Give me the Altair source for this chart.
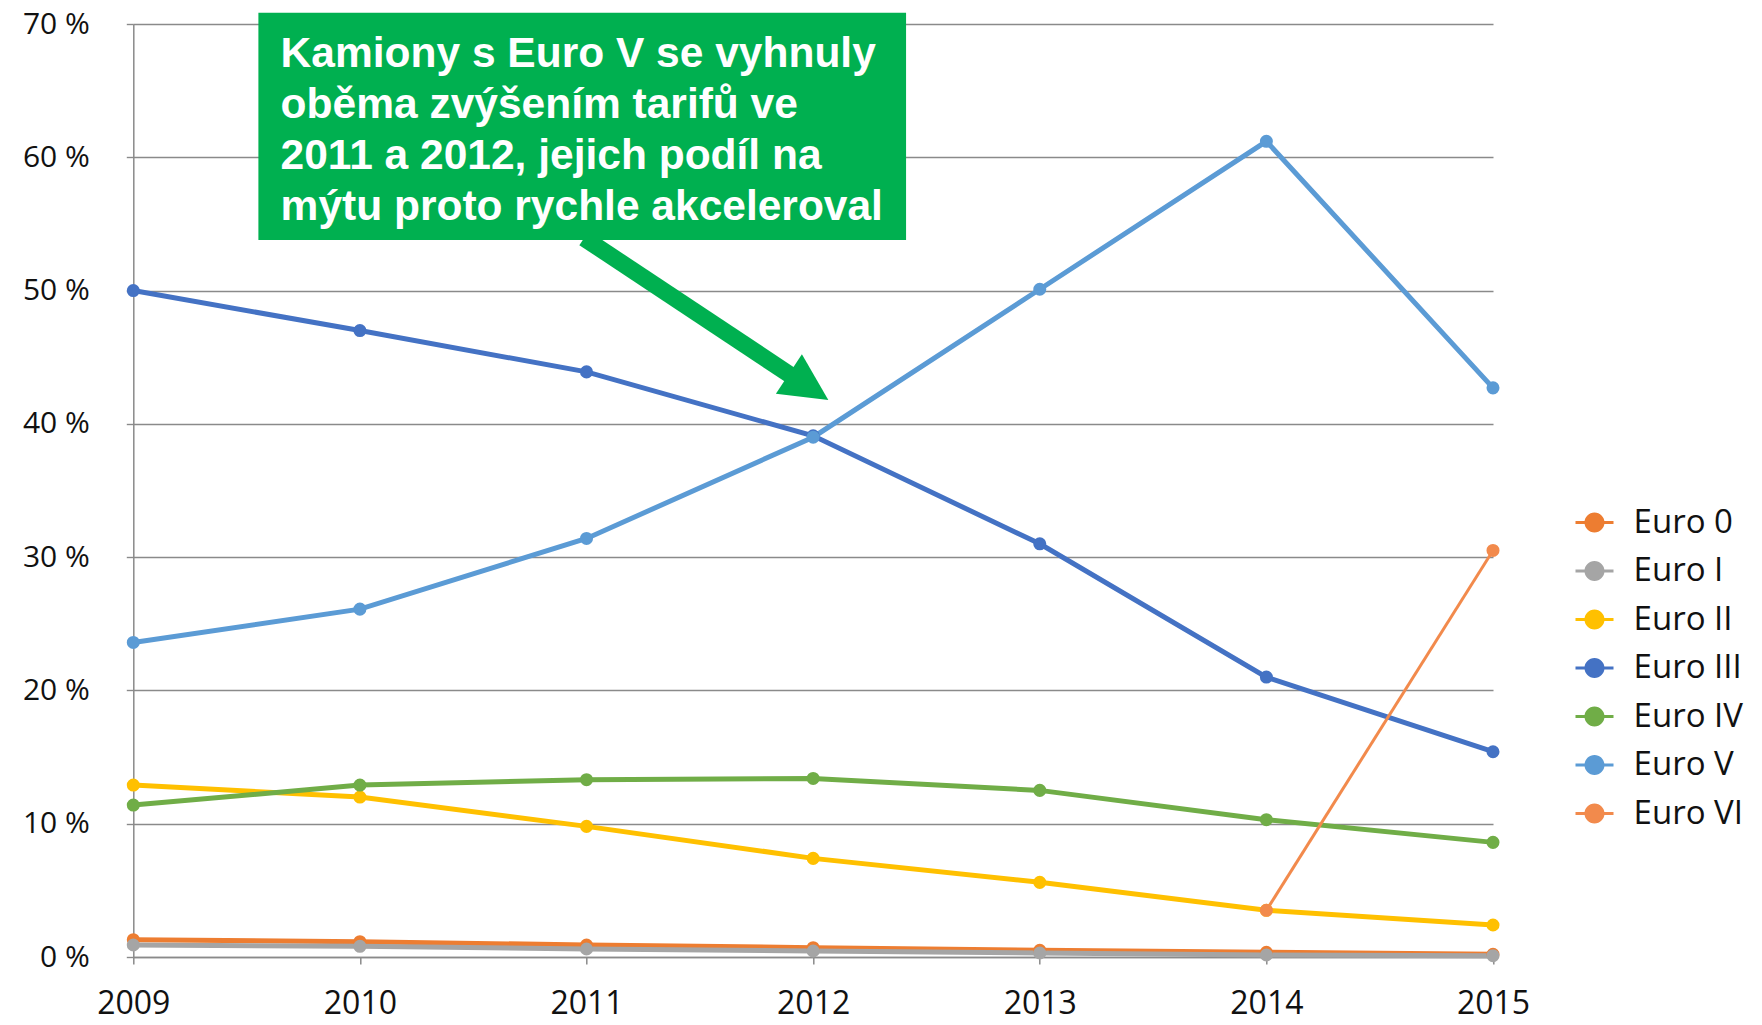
import altair as alt
import pandas as pd

# ---- data ----
years = [2009, 2010, 2011, 2012, 2013, 2014, 2015]
series = ["Euro 0", "Euro I", "Euro II", "Euro III", "Euro IV", "Euro V", "Euro VI"]
euro0 = [1.3, 1.15, 0.9, 0.7, 0.5, 0.35, 0.2]
euro1 = [0.9, 0.8, 0.6, 0.45, 0.3, 0.15, 0.1]
euro2 = [12.9, 12.0, 9.8, 7.4, 5.6, 3.5, 2.4]
euro3 = [50.0, 47.0, 43.9, 39.1, 31.0, 21.0, 15.4]
euro4 = [11.4, 12.9, 13.3, 13.4, 12.5, 10.3, 8.6]
euro5 = [23.6, 26.1, 31.4, 39.0, 50.1, 61.2, 42.7]
euro6 = [None, None, None, None, None, 3.5, 30.5]
colors = ["#ED7D31", "#A5A5A5", "#FFC000", "#4472C4", "#70AD47", "#5B9BD5", "#F28A4C"]
y_ticks = [0, 10, 20, 30, 40, 50, 60, 70]

# annotation (in data coordinates: year / percent)
note_lines = ["Kamiony s Euro V se vyhnuly",
              "oběma zvýšením tarifů ve",
              "2011 a 2012, jejich podíl na",
              "mýtu proto rychle akceleroval"]
note_line_y = [66.80, 62.96, 59.13, 55.29]
note_x = 2009.65
box_x, box_x2, box_y, box_y2 = 2009.552, 2012.41, 70.84, 53.79
shaft_x, shaft_y, shaft_x2, shaft_y2 = 2010.989, 53.94, 2011.919, 43.44
head_x, head_y, head_angle = 2011.98, 42.76, 123.4
green = "#00B050"

# ---- tables ----
rows = []
for name, vals in zip(series, [euro0, euro1, euro2, euro3, euro4, euro5, euro6]):
    for yr, v in zip(years, vals):
        if v is not None:
            rows.append({"year": yr, "value": v, "series": name})
df = pd.DataFrame(rows)

xs = alt.Scale(domain=[2009, 2015], nice=False, zero=False)
ys = alt.Scale(domain=[0, 70], nice=False)
cs = alt.Scale(domain=series, range=colors)

LEG_PATH = ("M-1.9,-0.16L1.9,-0.16L1.9,0.16L-1.9,0.16Z "
            "M1,0A1,1 0 1,1 -1,0A1,1 0 1,1 1,0Z")

legend = alt.Legend(title=None, orient="none", legendX=1444.7, legendY=482,
                    symbolType=LEG_PATH, symbolSize=400, symbolStrokeWidth=0,
                    labelFont="Open Sans", labelFontSize=33,
                    labelColor="#111", labelOffset=22.6, rowPadding=14.5, padding=0)

x_enc = alt.X("year:Q", scale=xs, title=None,
              axis=alt.Axis(values=years, format="d", labelFont="Open Sans",
                            labelFontSize=32, labelColor="#111", labelPadding=49,
                            labelBaseline="alphabetic",
                            tickSize=7, grid=False, domainColor="#8a8a8a",
                            tickColor="#8a8a8a", domainWidth=1.5, tickWidth=1.5,
                            labelFlush=False))
y_enc = alt.Y("value:Q", scale=ys, title=None,
              axis=alt.Axis(values=y_ticks, labelExpr="datum.value + ' %'",
                            labelFont="Open Sans", labelFontSize=30, labelColor="#111",
                            labelPadding=37, tickSize=7, grid=True,
                            gridColor="#8a8a8a", gridWidth=1.4, domainColor="#8a8a8a",
                            tickColor="#8a8a8a", domainWidth=1.5, tickWidth=1.4))

color_enc = alt.Color("series:N", scale=cs, sort=series, legend=legend)

base = alt.Chart(df)
lines = base.mark_line(interpolate="linear").encode(
    x=x_enc, y=y_enc,
    color=color_enc,
    strokeWidth=alt.condition("datum.series === 'Euro VI'", alt.value(3), alt.value(5)),
    detail="series:N",
)
points = base.mark_point(filled=True, opacity=1, size=170).encode(
    x="year:Q", y="value:Q",
    color=color_enc,
)

shaft_df = pd.DataFrame({"x": [shaft_x], "y": [shaft_y], "x2": [shaft_x2], "y2": [shaft_y2]})
shaft = alt.Chart(shaft_df).mark_rule(color=green, strokeWidth=17, strokeCap="butt").encode(
    x=alt.X("x:Q", scale=xs), y=alt.Y("y:Q", scale=ys), x2="x2:Q", y2="y2:Q")

head_df = pd.DataFrame({"x": [head_x], "y": [head_y]})
head = alt.Chart(head_df).mark_point(shape="M0,-1L-1,1L1,1Z", filled=True, opacity=1,
                                     color=green, size=2230, angle=head_angle).encode(
    x=alt.X("x:Q", scale=xs), y=alt.Y("y:Q", scale=ys))

box_df = pd.DataFrame({"x": [box_x], "x2": [box_x2], "y": [box_y], "y2": [box_y2]})
box = alt.Chart(box_df).mark_rect(color=green, opacity=1).encode(
    x=alt.X("x:Q", scale=xs), x2="x2:Q", y=alt.Y("y:Q", scale=ys), y2="y2:Q")

text_df = pd.DataFrame({"x": [note_x] * len(note_lines), "y": note_line_y, "t": note_lines})
text = alt.Chart(text_df).mark_text(align="left", baseline="alphabetic", color="white",
                                    font="Liberation Sans", fontWeight="bold",
                                    fontSize=42.5).encode(
    x=alt.X("x:Q", scale=xs), y=alt.Y("y:Q", scale=ys), text="t:N")

chart = alt.layer(lines, points, shaft, head, box, text).properties(
    width=1359.7, height=933,
    autosize=alt.AutoSizeParams(type="none"),
    padding={"left": 125.3, "top": 16, "right": 255, "bottom": 60},
    background="white",
).configure_view(stroke=None)

chart.save("out.html", embed_options={"renderer": "svg", "actions": False})
